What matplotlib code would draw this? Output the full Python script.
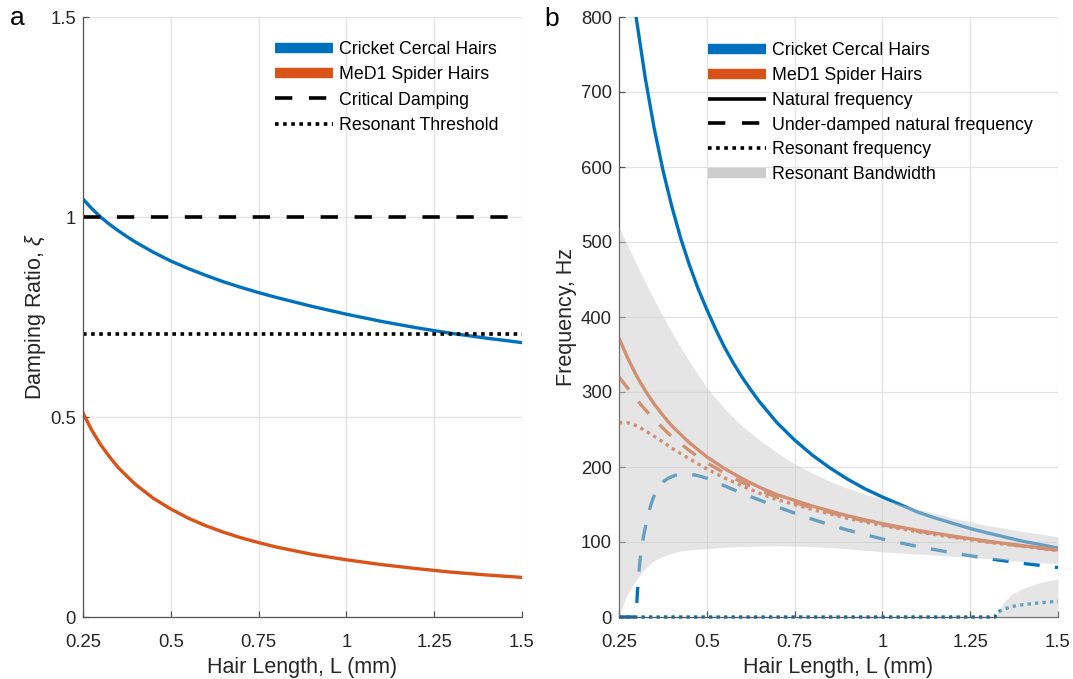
import numpy as np
import matplotlib
matplotlib.use("Agg")
import matplotlib.pyplot as plt
from matplotlib.lines import Line2D

plt.rcParams['font.family'] = ['Liberation Sans', 'DejaVu Sans']
plt.rcParams['mathtext.fontset'] = 'custom'
plt.rcParams['mathtext.it'] = 'Liberation Sans:italic'
plt.rcParams['mathtext.rm'] = 'Liberation Sans'

BLUE = '#0072BD'
ORANGE = '#D95319'
BAND = '#cccccc'

# ---- panel a: damping ratio ----
x_damp = [0.25, 0.275, 0.3, 0.325, 0.35, 0.375, 0.4, 0.45, 0.5, 0.55, 0.6, 0.65, 0.7, 0.75, 0.8,
          0.9, 1.0, 1.1, 1.2, 1.3, 1.4, 1.5]
xi_cricket = [1.045, 1.021, 1.0, 0.982, 0.966, 0.951, 0.937, 0.912, 0.89, 0.871, 0.854, 0.838,
              0.824, 0.811, 0.799, 0.777, 0.757, 0.739, 0.723, 0.709, 0.697, 0.686]
xi_spider = [0.51, 0.467, 0.431, 0.401, 0.374, 0.352, 0.331, 0.297, 0.27, 0.247, 0.228, 0.212,
             0.198, 0.186, 0.175, 0.157, 0.143, 0.131, 0.121, 0.112, 0.105, 0.099]
critical = 1.0
resonant_threshold = 0.7071

# ---- panel b: frequencies ----
x_cricket_n = [0.25, 0.275, 0.3, 0.325, 0.35, 0.375, 0.4, 0.425, 0.45, 0.475, 0.5, 0.525, 0.55,
               0.575, 0.6, 0.625, 0.65, 0.7, 0.75, 0.8, 0.85, 0.9, 0.95, 1.0, 1.05, 1.1, 1.15,
               1.2, 1.25, 1.3, 1.4, 1.5]
f_cricket_n = [1010, 892, 796, 718, 652, 596, 548, 506, 470, 438, 410, 384, 360,
               339, 320, 303, 287, 259, 236, 216, 199, 184, 171, 160, 150, 140, 132,
               125, 118, 112, 101, 92]

x_cricket_d = [0.25, 0.299, 0.300, 0.302, 0.305, 0.309, 0.314, 0.32, 0.327, 0.335, 0.343, 0.352,
               0.362, 0.375, 0.39, 0.41, 0.43, 0.45, 0.475, 0.5, 0.55, 0.6, 0.65, 0.7, 0.75,
               0.8, 0.85, 0.9, 0.95, 1.0, 1.1, 1.2, 1.3, 1.4, 1.5]
f_cricket_d = [0, 0, 12, 30, 50, 72, 92, 108, 124, 140, 153, 164,
               173, 180, 185, 189, 190.5, 190.5, 188.5, 185, 175, 165, 156, 147, 138.5,
               130.5, 123, 116, 110, 104, 94, 85.5, 78, 71.5, 66]

x_cricket_r = [0.25, 1.32, 1.33, 1.35, 1.37, 1.4, 1.45, 1.5]
f_cricket_r = [0, 0, 7, 11, 14, 16.5, 19, 21]

x_spider = [0.25, 0.275, 0.3, 0.325, 0.35, 0.375, 0.4, 0.45, 0.5, 0.55, 0.6, 0.65, 0.7, 0.8,
            0.9, 1.0, 1.1, 1.2, 1.3, 1.4, 1.5]
f_spider_n = [372, 345, 321.5, 301.6, 284, 269, 255, 232.5, 213.6, 198, 184.7, 173, 163, 148,
              135, 124.5, 115.5, 108, 101, 95, 89.5]
f_spider_d = [320, 305, 290, 276.3, 263.4, 251.8, 240.6, 222, 205.7, 191.9, 179.8, 169, 159.8, 145.7,
              133.3, 123.2, 114.5, 107.2, 100.4, 94.5, 89]
f_spider_r = [259, 259, 254.9, 248.4, 241, 233.5, 225.2, 211, 197.5, 185.5, 174.8, 165, 156.5, 143.4,
              131.6, 121.9, 113.5, 106.4, 99.7, 94, 88.6]

x_band = [0.25, 0.255, 0.26, 0.265, 0.275, 0.3, 0.325, 0.35, 0.375, 0.4, 0.425, 0.45, 0.475, 0.5,
          0.55, 0.6, 0.65, 0.7, 0.75, 0.8, 0.85, 0.9, 0.95, 1.0, 1.1, 1.2, 1.3, 1.4, 1.5]
band_hi = [520, 515, 510, 505, 495, 470, 446, 423, 401, 380, 360, 341, 323, 306,
           278, 255, 236, 219, 204, 192, 181, 172, 164, 157, 144, 132, 122, 114, 107]
band_lo = [0, 8, 14, 20, 31, 50, 65, 75, 81, 85, 88, 89.5, 90.5, 91,
           93, 94, 94.5, 95, 94.5, 94, 92.5, 91, 89, 87, 84, 81, 78, 74, 71]
x_band2 = [1.325, 1.335, 1.35, 1.37, 1.4, 1.45, 1.5]
band2_hi = [0, 12, 22, 31, 38, 46, 51]

xticks = [0.25, 0.5, 0.75, 1, 1.25, 1.5]
xtick_labels = ['0.25', '0.5', '0.75', '1', '1.25', '1.5']

DASH = (4.8, 4.6)
DOT = (1.0, 1.25)
LW = 2.4

fig = plt.figure(figsize=(10.73, 6.79), dpi=100)
ax1 = fig.add_axes([83 / 1073, 62 / 679, 439 / 1073, 600 / 679])
ax2 = fig.add_axes([619 / 1073, 62 / 679, 439 / 1073, 600 / 679])


def style(ax):
    ax.set_xlim(0.25, 1.5)
    ax.set_xticks(xticks)
    ax.set_xticklabels(xtick_labels)
    for s in ['top', 'right']:
        ax.spines[s].set_visible(False)
    for s in ['left', 'bottom']:
        ax.spines[s].set_color('#555555')
        ax.spines[s].set_linewidth(0.9)
    ax.grid(True, color='#e3e3e3', lw=0.9)
    ax.set_axisbelow(True)
    ax.tick_params(direction='in', length=4, width=0.9, color='#555555',
                   labelsize=13.3, labelcolor='#262626')
    ax.tick_params(axis='x', pad=12)
    ax.tick_params(axis='y', pad=5)
    ax.set_xlabel('Hair Length, L (mm)', fontsize=15.5, color='#262626', labelpad=4.5)


def legend_handles(kinds):
    hs = []
    for color, kind in kinds:
        if kind == 'thick':
            hs.append(Line2D([], [], color=color, lw=7.5, solid_capstyle='butt'))
        elif kind == 'solid':
            hs.append(Line2D([], [], color=color, lw=2.6, solid_capstyle='butt'))
        elif kind == 'dash':
            hs.append(Line2D([], [], color=color, lw=2.6, dashes=DASH, dash_capstyle='butt'))
        else:
            hs.append(Line2D([], [], color=color, lw=2.6, dashes=DOT, dash_capstyle='butt'))
    return hs


# panel a
style(ax1)
ax1.set_ylim(0, 1.5)
ax1.set_yticks([0, 0.5, 1, 1.5])
ax1.set_yticklabels(['0', '0.5', '1', '1.5'])
ax1.plot(x_damp, xi_cricket, color=BLUE, lw=LW)
ax1.plot(x_damp, xi_spider, color=ORANGE, lw=LW)
ax1.axhline(critical, color='black', lw=2.6, dashes=DASH)
ax1.axhline(resonant_threshold, color='black', lw=2.6, dashes=DOT)
ax1.set_ylabel(r'Damping Ratio, $\xi$', fontsize=15.5, color='#262626', labelpad=1.5)

h1 = legend_handles([(BLUE, 'thick'), (ORANGE, 'thick'), ('black', 'dash'), ('black', 'dot')])
ax1.legend(h1, ['Cricket Cercal Hairs', 'MeD1 Spider Hairs', 'Critical Damping', 'Resonant Threshold'],
           loc='upper left', bbox_to_anchor=(0.437, 0.96), frameon=False, fontsize=12.8,
           handlelength=3.25, handletextpad=0.35, labelspacing=0.47, borderpad=0, borderaxespad=0)

# panel b
style(ax2)
ax2.set_ylim(0, 800)
ax2.set_yticks(range(0, 801, 100))
ax2.plot(x_cricket_n, f_cricket_n, color=BLUE, lw=LW)
ax2.plot(x_cricket_d, f_cricket_d, color=BLUE, lw=LW, dashes=DASH, clip_on=False)
ax2.plot(x_cricket_r, f_cricket_r, color=BLUE, lw=LW, dashes=DOT, clip_on=False)
ax2.plot(x_spider, f_spider_n, color=ORANGE, lw=LW)
ax2.plot(x_spider, f_spider_d, color=ORANGE, lw=LW, dashes=DASH)
ax2.plot(x_spider, f_spider_r, color=ORANGE, lw=LW, dashes=DOT)
ax2.fill_between(x_band, band_lo, band_hi, color=BAND, alpha=0.5, lw=0, zorder=3)
ax2.fill_between(x_band2, 0, band2_hi, color=BAND, alpha=0.5, lw=0, zorder=3)
ax2.set_ylabel('Frequency, Hz', fontsize=15.5, color='#262626', labelpad=3)

h2 = legend_handles([(BLUE, 'thick'), (ORANGE, 'thick'), ('black', 'solid'),
                     ('black', 'dash'), ('black', 'dot'), (BAND, 'thick')])
ax2.legend(h2, ['Cricket Cercal Hairs', 'MeD1 Spider Hairs', 'Natural frequency',
                'Under-damped natural frequency', 'Resonant frequency', 'Resonant Bandwidth'],
           loc='upper left', bbox_to_anchor=(0.203, 0.958), frameon=False, fontsize=12.8,
           handlelength=3.25, handletextpad=0.35, labelspacing=0.44, borderpad=0, borderaxespad=0)

fig.text(17 / 1073, 1 - 18 / 679, 'a', fontsize=19, ha='center', va='center')
fig.text(552 / 1073, 1 - 19 / 679, 'b', fontsize=19, ha='center', va='center')

fig.savefig('out.png', dpi=100)
